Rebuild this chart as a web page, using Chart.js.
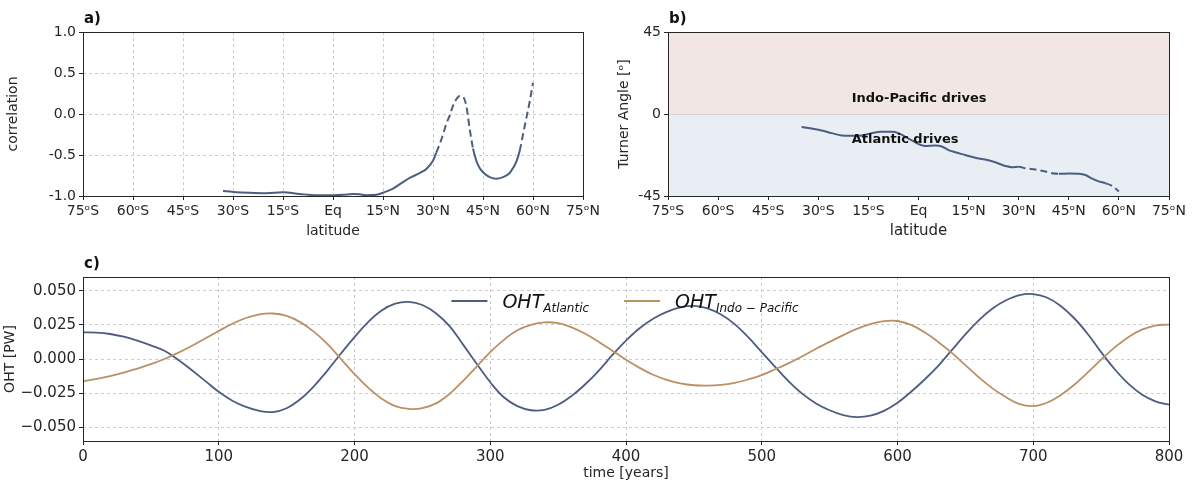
<!DOCTYPE html>
<html>
<head>
<meta charset="utf-8">
<script src="https://cdn.jsdelivr.net/npm/chart.js@4.4.0/dist/chart.umd.min.js"></script>
<style>
  html, body { margin: 0; padding: 0; background: #fff; }
  #wrap { position: relative; width: 1195px; height: 486px; overflow: hidden; }
  canvas { position: absolute; }
</style>
</head>
<body>
<div id="wrap">
  <canvas id="chartA" width="620" height="245" style="left:0;top:0"></canvas>
  <canvas id="chartB" width="605" height="245" style="left:590px;top:0"></canvas>
  <canvas id="chartC" width="1195" height="236" style="left:0;top:250px"></canvas>
</div>
<script>
// -------- Data --------
const latTicks = [-75, -60, -45, -30, -15, 0, 15, 30, 45, 60, 75];

// a) correlation vs latitude
const latA = [-33, -30, -25, -20, -15, -10, -5, 0, 3, 6, 8, 10, 13, 15, 18, 21, 23, 26, 28, 30,
  31, 32, 33, 34, 35, 36, 37, 38, 39, 40, 41, 42, 43, 44, 45, 47, 49, 51, 53, 54, 55, 56, 57, 58, 59, 60];
const corrA = [-0.94, -0.95, -0.96, -0.965, -0.955, -0.975, -0.99, -0.99, -0.985, -0.975, -0.98, -0.99, -0.985, -0.96, -0.91, -0.83, -0.78, -0.72, -0.67, -0.57,
  -0.47, -0.37, -0.25, -0.12, -0.02, 0.1, 0.18, 0.22, 0.21, 0.1, -0.18, -0.42, -0.57, -0.66, -0.71, -0.77, -0.79, -0.77, -0.72, -0.66, -0.58, -0.45, -0.25, -0.05, 0.15, 0.38];
const dashedA = [[31, 42], [56, 60]];
const corrTicks = [-1, -0.5, 0, 0.5, 1];

// b) Turner angle vs latitude
const latB = [-35, -32, -29, -26, -23, -20, -17, -14, -11, -8, -6, -4, -2, 0, 2, 5, 7, 9, 11, 14,
  17, 20, 23, 26, 28, 30, 32, 35, 38, 40, 42, 45, 48, 50, 52, 54, 56, 58, 60];
const turnerB = [-7.1, -8, -9, -10.5, -11.8, -12, -11.8, -10.5, -9.8, -9.8, -10.5, -12.5, -14.5, -16.5, -17.5, -17.3, -17.8, -19.8, -21, -22.5,
  -24, -25, -26.5, -28.5, -29.2, -29, -29.8, -30.5, -31.5, -32.5, -32.8, -32.7, -32.8, -33.5, -35.5, -37, -38, -39.5, -42.5];
const dashedB = [[31, 41.5], [56.5, 60]];
const turnerTicks = [-45, 0, 45];

// c) OHT time series, read every 10 years
const timeC = [0, 10, 20, 30, 40, 50, 60, 70, 80, 90, 100, 110, 120, 130, 140, 150, 160, 170, 180, 190,
  200, 210, 220, 230, 240, 250, 260, 270, 280, 290, 300, 310, 320, 330, 340, 350, 360, 370, 380, 390,
  400, 410, 420, 430, 440, 450, 460, 470, 480, 490, 500, 510, 520, 530, 540, 550, 560, 570, 580, 590,
  600, 610, 620, 630, 640, 650, 660, 670, 680, 690, 700, 710, 720, 730, 740, 750, 760, 770, 780, 790, 800];
const ohtAtl = [0.0195, 0.0193, 0.0183, 0.0163, 0.0135, 0.0100, 0.0060, -0.0005, -0.0080, -0.0160,
  -0.0240, -0.0305, -0.0350, -0.0380, -0.0388, -0.0360, -0.0295, -0.0200, -0.0085, 0.0040,
  0.0160, 0.0270, 0.0355, 0.0405, 0.0418, 0.0395, 0.0335, 0.0240, 0.0105, -0.0035,
  -0.0170, -0.0280, -0.0345, -0.0375, -0.0372, -0.0335, -0.0270, -0.0185, -0.0085, 0.0030,
  0.0135, 0.0225, 0.0295, 0.0345, 0.0378, 0.0388, 0.0370, 0.0325, 0.0255, 0.0160,
  0.0050, -0.0060, -0.0165, -0.0255, -0.0325, -0.0375, -0.0410, -0.0425, -0.0415, -0.0380,
  -0.0320, -0.0240, -0.0150, -0.0050, 0.0065, 0.0180, 0.0285, 0.0370, 0.0430, 0.0468,
  0.0475, 0.0450, 0.0390, 0.0300, 0.0185, 0.0050, -0.0075, -0.0180, -0.0260, -0.0310, -0.0334];
const ohtIndo = [-0.0163, -0.0145, -0.0125, -0.0100, -0.0070, -0.0038, 0.0000, 0.0045, 0.0095, 0.0150,
  0.0205, 0.0258, 0.0300, 0.0327, 0.0333, 0.0315, 0.0270, 0.0200, 0.0110, 0.0000,
  -0.0110, -0.0210, -0.0290, -0.0345, -0.0365, -0.0360, -0.0325, -0.0255, -0.0160, -0.0055,
  0.0050, 0.0140, 0.0210, 0.0250, 0.0268, 0.0262, 0.0232, 0.0185, 0.0125, 0.0060,
  -0.0005, -0.0065, -0.0115, -0.0152, -0.0178, -0.0192, -0.0195, -0.0190, -0.0175, -0.0150,
  -0.0118, -0.0075, -0.0030, 0.0020, 0.0075, 0.0125, 0.0175, 0.0220, 0.0255, 0.0277,
  0.0278, 0.0250, 0.0195, 0.0125, 0.0045, -0.0045, -0.0135, -0.0215, -0.0280, -0.0330,
  -0.0345, -0.0320, -0.0265, -0.0190, -0.0100, -0.0005, 0.0085, 0.0160, 0.0215, 0.0245, 0.0252];
const timeTicks = [0, 100, 200, 300, 400, 500, 600, 700, 800];
const ohtTicks = [-0.05, -0.025, 0, 0.025, 0.05];

// -------- Style --------
const FONT = "'DejaVu Sans', sans-serif";
const INK = '#262626';
const GRID = '#cccccc';
const BLUE = '#4c5d7f';
const TAN = '#ba9065';

Chart.defaults.font.family = FONT;
Chart.defaults.color = INK;
Chart.defaults.animation = false;

// -------- Utils --------
function pts(xs, ys) { return xs.map((x, i) => ({ x, y: ys[i] })); }
function latLabel(v) { return v === 0 ? 'Eq' : `${Math.abs(v)}ᵒ${v < 0 ? 'S' : 'N'}`; }
function fixTicks(list) { return scale => { scale.ticks = list.map(value => ({ value })); }; }
function dashIn(ranges) {
  return ctx => {
    const m = (ctx.p0.parsed.x + ctx.p1.parsed.x) / 2;
    return ranges.some(([a, b]) => m >= a && m <= b) ? [7, 4] : undefined;
  };
}
function gridOpts(onArea) {
  return {
    display: true, drawOnChartArea: onArea, color: GRID, lineWidth: 1,
    tickLength: 4, tickColor: INK, tickWidth: 1, tickBorderDash: []
  };
}

// frame round the plot area + panel letter
function framePlugin(letter) {
  return {
    id: 'frame',
    afterDraw(chart) {
      const { ctx, chartArea: a } = chart;
      const l = Math.round(a.left) + 0.5, t = Math.round(a.top) + 0.5;
      const r = Math.round(a.right) + 0.5, b = Math.round(a.bottom) + 0.5;
      ctx.save();
      ctx.strokeStyle = INK;
      ctx.lineWidth = 1;
      ctx.strokeRect(l, t, r - l, b - t);
      ctx.fillStyle = '#111';
      ctx.font = `bold 15px ${FONT}`;
      ctx.textAlign = 'left';
      ctx.textBaseline = 'alphabetic';
      ctx.fillText(letter, a.left + 1, a.top - 9);
      ctx.restore();
    }
  };
}

function latAxis(tickSize, titleSize, onArea) {
  return {
    type: 'linear', min: -75, max: 75,
    afterBuildTicks: fixTicks(latTicks),
    afterFit: s => { s.height = 49; },
    grid: gridOpts(onArea),
    border: { display: false, dash: [3, 3] },
    ticks: { font: { size: tickSize }, color: INK, padding: 3, maxRotation: 0, autoSkip: false, callback: v => latLabel(v) },
    title: { display: true, text: 'latitude', font: { size: titleSize }, color: INK, padding: { top: 0, bottom: 5 } }
  };
}

// -------- Chart a --------
new Chart(document.getElementById('chartA'), {
  type: 'line',
  data: { datasets: [{
    data: pts(latA, corrA), borderColor: BLUE, borderWidth: 2, pointRadius: 0,
    cubicInterpolationMode: 'monotone', segment: { borderDash: dashIn(dashedA) }
  }] },
  options: {
    responsive: false,
    layout: { padding: { top: 32, right: 37, left: 0, bottom: 0 } },
    plugins: { legend: { display: false }, tooltip: { enabled: false } },
    scales: {
      x: latAxis(14, 14, true),
      y: {
        type: 'linear', min: -1, max: 1,
        afterBuildTicks: fixTicks(corrTicks),
        afterFit: s => { s.width = 83; },
        grid: gridOpts(true),
        border: { display: false, dash: [3, 3] },
        ticks: { font: { size: 14 }, color: INK, padding: 3, callback: v => v.toFixed(1) },
        title: { display: true, text: 'correlation', font: { size: 14 }, color: INK, padding: { top: 5, bottom: 0 } }
      }
    }
  },
  plugins: [framePlugin('a)')]
});

// -------- Chart b --------
const shadePlugin = {
  id: 'shade',
  beforeDatasetsDraw(chart) {
    const { ctx, chartArea: a, scales: { y } } = chart;
    const y0 = y.getPixelForValue(0);
    ctx.save();
    ctx.fillStyle = '#f1e6e4';
    ctx.fillRect(a.left, a.top, a.right - a.left, y0 - a.top);
    ctx.fillStyle = '#e9eef5';
    ctx.fillRect(a.left, y0, a.right - a.left, a.bottom - y0);
    ctx.strokeStyle = '#d8d4d4';
    ctx.lineWidth = 1;
    ctx.beginPath();
    ctx.moveTo(a.left, Math.round(y0) + 0.5);
    ctx.lineTo(a.right, Math.round(y0) + 0.5);
    ctx.stroke();
    ctx.restore();
  }
};
const labelPlugin = {
  id: 'regionLabels',
  afterDatasetsDraw(chart) {
    const { ctx, scales: { x, y } } = chart;
    ctx.save();
    ctx.fillStyle = '#111';
    ctx.font = `bold 13px ${FONT}`;
    ctx.textAlign = 'left';
    ctx.textBaseline = 'middle';
    ctx.fillText('Indo-Pacific drives', x.getPixelForValue(-20), y.getPixelForValue(8.6));
    ctx.fillText('Atlantic drives', x.getPixelForValue(-20), y.getPixelForValue(-14));
    ctx.restore();
  }
};
new Chart(document.getElementById('chartB'), {
  type: 'line',
  data: { datasets: [{
    data: pts(latB, turnerB), borderColor: BLUE, borderWidth: 2, pointRadius: 0,
    cubicInterpolationMode: 'monotone', segment: { borderDash: dashIn(dashedB) }
  }] },
  options: {
    responsive: false,
    layout: { padding: { top: 32, right: 26, left: 0, bottom: 0 } },
    plugins: { legend: { display: false }, tooltip: { enabled: false } },
    scales: {
      x: latAxis(14, 15, false),
      y: {
        type: 'linear', min: -45, max: 45,
        afterBuildTicks: fixTicks(turnerTicks),
        afterFit: s => { s.width = 78; },
        grid: gridOpts(false),
        border: { display: false },
        ticks: { font: { size: 14 }, color: INK, padding: 3, callback: v => String(v) },
        title: { display: true, text: 'Turner Angle [ᵒ]', font: { size: 14 }, color: INK, padding: { top: 26, bottom: 0 } }
      }
    }
  },
  plugins: [shadePlugin, labelPlugin, framePlugin('b)')]
});

// -------- Chart c --------
const legendPlugin = {
  id: 'subLegend',
  afterDraw(chart) {
    const { ctx, chartArea: a } = chart;
    const items = [
      { color: BLUE, main: 'OHT', sub: 'Atlantic' },
      { color: TAN, main: 'OHT', sub: 'Indo − Pacific' }
    ];
    const mainFont = `italic 19px ${FONT}`, subFont = `italic 12px ${FONT}`;
    const lineLen = 36, gapLine = 15, gapItem = 35;
    ctx.save();
    const widths = items.map(it => {
      ctx.font = mainFont; const wm = ctx.measureText(it.main).width;
      ctx.font = subFont; const ws = ctx.measureText(it.sub).width;
      it.wm = wm;
      return lineLen + gapLine + wm + ws;
    });
    const total = widths.reduce((s, w) => s + w, 0) + gapItem;
    let x = (a.left + a.right) / 2 - 1 - total / 2;
    const yLine = a.top + 24;
    items.forEach((it, i) => {
      ctx.strokeStyle = it.color;
      ctx.lineWidth = 2;
      ctx.beginPath();
      ctx.moveTo(x, yLine);
      ctx.lineTo(x + lineLen, yLine);
      ctx.stroke();
      ctx.fillStyle = '#111';
      ctx.textAlign = 'left';
      ctx.textBaseline = 'alphabetic';
      ctx.font = mainFont;
      ctx.fillText(it.main, x + lineLen + gapLine, yLine + 7);
      ctx.font = subFont;
      ctx.fillText(it.sub, x + lineLen + gapLine + it.wm, yLine + 11);
      x += widths[i] + gapItem;
    });
    ctx.restore();
  }
};
new Chart(document.getElementById('chartC'), {
  type: 'line',
  data: { datasets: [
    { label: 'OHT Atlantic', data: pts(timeC, ohtAtl), borderColor: BLUE, borderWidth: 1.8, pointRadius: 0, tension: 0.4, order: 2 },
    { label: 'OHT Indo-Pacific', data: pts(timeC, ohtIndo), borderColor: TAN, borderWidth: 1.8, pointRadius: 0, tension: 0.4, order: 1 }
  ] },
  options: {
    responsive: false,
    layout: { padding: { top: 27, right: 26, left: 0, bottom: 0 } },
    plugins: { legend: { display: false }, tooltip: { enabled: false } },
    scales: {
      x: {
        type: 'linear', min: 0, max: 800,
        afterBuildTicks: fixTicks(timeTicks),
        afterFit: s => { s.height = 45; },
        grid: gridOpts(true),
        border: { display: false, dash: [3, 3] },
        ticks: { font: { size: 15 }, color: INK, padding: 3, maxRotation: 0, autoSkip: false, callback: v => String(v) },
        title: { display: true, text: 'time [years]', font: { size: 14 }, color: INK, padding: { top: 0, bottom: 4 } }
      },
      y: {
        type: 'linear', min: -0.06, max: 0.06,
        afterBuildTicks: fixTicks(ohtTicks),
        afterFit: s => { s.width = 83; },
        grid: gridOpts(true),
        border: { display: false, dash: [3, 3] },
        ticks: { font: { size: 15 }, color: INK, padding: 3, callback: v => v.toFixed(3).replace('-', '\u2212') },
        title: { display: true, text: 'OHT [PW]', font: { size: 14 }, color: INK, padding: { top: 2, bottom: 0 } }
      }
    }
  },
  plugins: [legendPlugin, framePlugin('c)')]
});
</script>
</body>
</html>
